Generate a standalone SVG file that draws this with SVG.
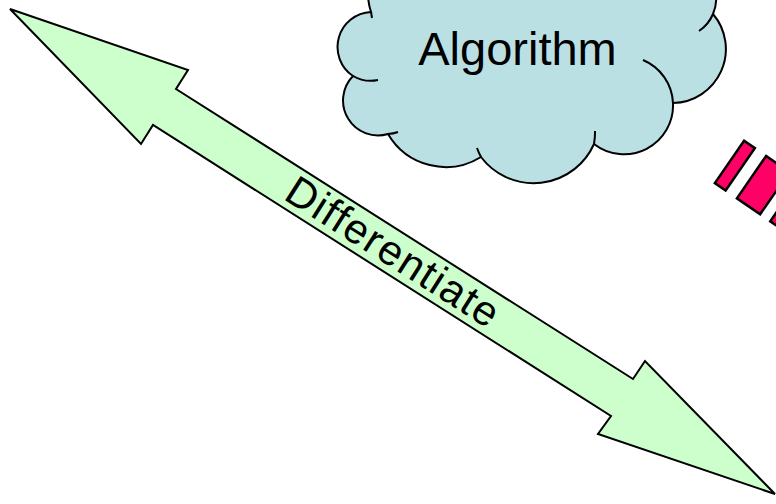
<svg xmlns="http://www.w3.org/2000/svg" width="776" height="504" viewBox="0 0 776 504">
<style>
.ln{stroke:#000;stroke-width:2;stroke-linejoin:miter}
.cl{fill:#BBE0E3;stroke:#000;stroke-width:2}
.tail{fill:none;stroke:#000;stroke-width:2}
.lbl{font-family:"Liberation Sans",Arial,sans-serif;fill:#000}
.red{fill:#FF0066;stroke:#000;stroke-width:2.5}
</style>
<rect width="776" height="504" fill="#fff"/>
<g id="connectors">
<g id="differentiate-arrow">
<polygon class="ln" fill="#CCFFCC" points="10,9 188,70 176,89 633,379 645,361 775,494 598,434 611,416 153,125 141,144"/>
<text class="lbl" font-size="42" letter-spacing="1.5" text-anchor="middle" transform="translate(392,251.5) rotate(32.4)" x="1.5" y="14">Differentiate</text>
</g>
</g>
<g id="algorithm">
<path class="cl" d="M366,-30 L368,-5 A60 60 0 0 0 371,12 A35 35 0 0 0 353,76 A35 35 0 0 0 388,134 A67 67 0 0 0 481,157 A66 66 0 0 0 594,144 A49 49 0 0 0 673,103 A54 54 0 0 0 713,14 A38 38 0 0 0 716,-5 L720,-30 Z"/>
<path class="tail" d="M371,12 L372,18 M353,76 A35 35 0 0 0 378,80 M388,134 A35 35 0 0 0 398,132 M477,148 A66 66 0 0 0 481,157 M594,144 A66 66 0 0 0 595,131 M673,103 A49 49 0 0 0 643,60 M713,14 A38 38 0 0 1 699,31"/>
<text class="lbl" font-size="47" text-anchor="middle" x="517.5" y="65">Algorithm</text>
</g>
<g id="striped-arrow" transform="rotate(34.6)">
<rect class="red" x="692.4" y="-306.7" width="13.1" height="51.5"/>
<rect class="red" x="719.2" y="-306.7" width="28.2" height="51.5"/>
<rect class="red" x="759.7" y="-306.7" width="160" height="51.5"/>
</g>
</svg>
